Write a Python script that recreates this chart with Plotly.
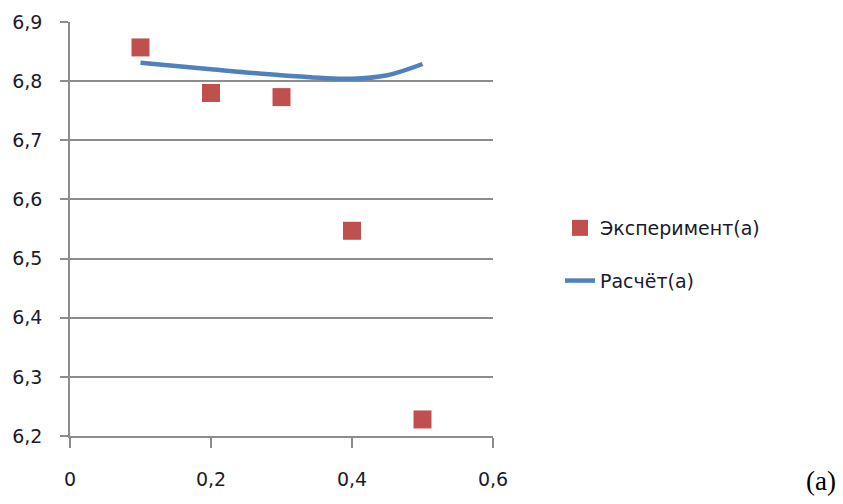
import plotly.graph_objects as go

# Data
exp_x = [0.1, 0.2, 0.3, 0.4, 0.5]
exp_y = [6.857, 6.780, 6.773, 6.547, 6.228]
calc_x = [0.1, 0.2, 0.3, 0.4, 0.45, 0.5]
calc_y = [6.831, 6.820, 6.810, 6.804, 6.810, 6.829]

x_tickvals = [0, 0.2, 0.4, 0.6]
x_ticktext = ["0", "0,2", "0,4", "0,6"]
y_tickvals = [6.2, 6.3, 6.4, 6.5, 6.6, 6.7, 6.8, 6.9]
y_ticktext = ["6,2", "6,3", "6,4", "6,5", "6,6", "6,7", "6,8", "6,9"]

FONT = "DejaVu Sans"
GRID = "#8c8c8c"
TXT = "#1a1a2a"

fig = go.Figure()
fig.add_trace(go.Scatter(
    x=exp_x, y=exp_y, mode="markers", name="Эксперимент(а)",
    legendgroup="a",
    marker=dict(symbol="square", size=18, color="#C0504D", line=dict(width=0)),
))
fig.add_trace(go.Scatter(
    x=calc_x, y=calc_y, mode="lines", name="Расчёт(а)",
    legendgroup="b",
    line=dict(color="#4F81BD", width=4.5, shape="spline", smoothing=1.0),
))

fig.update_layout(
    width=843, height=504,
    margin=dict(l=70, r=350, t=22, b=68),
    plot_bgcolor="white", paper_bgcolor="white",
    font=dict(family=FONT, size=19, color=TXT),
    showlegend=True,
    legend=dict(
        xref="container", yref="container",
        x=560 / 843, y=1 - 209 / 504, xanchor="left", yanchor="top",
        traceorder="grouped", tracegroupgap=25,
        font=dict(family=FONT, size=19, color=TXT),
        bgcolor="rgba(0,0,0,0)",
    ),
    xaxis=dict(
        range=[0, 0.6], tickvals=x_tickvals, ticktext=x_ticktext,
        showgrid=False, zeroline=False,
        showline=True, linecolor=GRID, linewidth=1.5,
        ticks="outside", ticklen=10, tickwidth=1.5, tickcolor=GRID,
        ticklabelstandoff=15, automargin=False,
    ),
    yaxis=dict(
        range=[6.2, 6.9], tickvals=y_tickvals, ticktext=y_ticktext,
        showgrid=True, gridcolor=GRID, gridwidth=1.5, zeroline=False,
        showline=True, linecolor=GRID, linewidth=1.5,
        ticks="outside", ticklen=8, tickwidth=1.5, tickcolor=GRID,
        ticklabelstandoff=14, automargin=False,
    ),
    annotations=[dict(
        text="(a)", xref="paper", yref="paper",
        x=(821 - 70) / 423, y=(436 - 481) / 414,
        xanchor="center", yanchor="middle", showarrow=False,
        font=dict(family="Liberation Serif", size=27, color="black"),
    )],
)

fig.write_html("out.html", config={"displayModeBar": False},
               post_script="document.body.style.margin='0';")
